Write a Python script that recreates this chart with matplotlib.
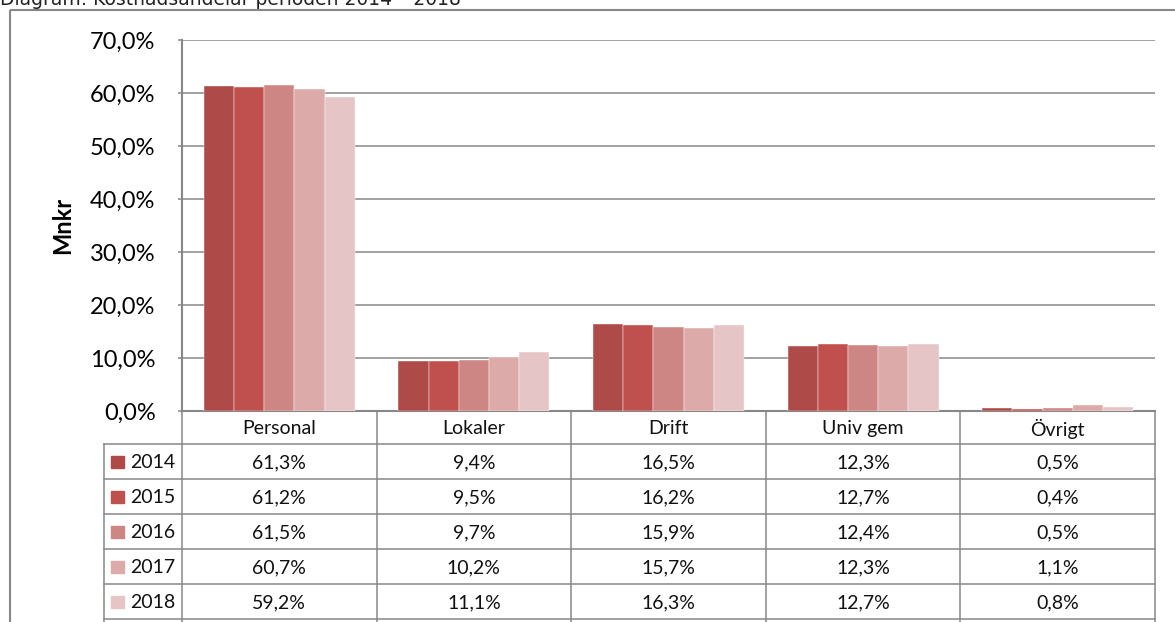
import matplotlib
matplotlib.use("Agg")
import matplotlib.pyplot as plt
from matplotlib.patches import Rectangle

categories = ["Personal", "Lokaler", "Drift", "Univ gem", "Övrigt"]
years = ["2014", "2015", "2016", "2017", "2018"]
share_2014 = [61.3, 9.4, 16.5, 12.3, 0.5]
share_2015 = [61.2, 9.5, 16.2, 12.7, 0.4]
share_2016 = [61.5, 9.7, 15.9, 12.4, 0.5]
share_2017 = [60.7, 10.2, 15.7, 12.3, 1.1]
share_2018 = [59.2, 11.1, 16.3, 12.7, 0.8]
series = [share_2014, share_2015, share_2016, share_2017, share_2018]
colors = ["#ae4a47", "#c0504d", "#cd8683", "#dbaaa9", "#e5c5c6"]
y_ticks = [0, 10, 20, 30, 40, 50, 60, 70]

W, H = 1175, 622
GRID = "#878787"
FONT = "Lato"

fig = plt.figure(figsize=(W / 100, H / 100), dpi=100)

# pixel-space overlay for the frame, title and data table
ov = fig.add_axes([0, 0, 1, 1], zorder=0)
ov.set_xlim(0, W)
ov.set_ylim(H, 0)
ov.axis("off")

# plot area in pixels
left, right, top, bottom = 182, 1155, 40, 411
ax = fig.add_axes([left / W, (H - bottom) / H, (right - left) / W, (bottom - top) / H], zorder=1)
ax.patch.set_alpha(0)

ov.add_patch(Rectangle((10, 10), W + 20, H + 20, fill=False, edgecolor=GRID, lw=1.5, clip_on=True))
ov.text(0, 5, "Diagram: Kostnadsandelar perioden 2014 \u2013 2018", fontsize=13.5,
        family="DejaVu Sans", color="#222222", va="baseline", ha="left")

# grouped bars
n = len(years)
group_w = 0.775
bar_w = group_w / n
for i, (vals, col) in enumerate(zip(series, colors)):
    xs = [c - group_w / 2 + bar_w * (i + 0.5) for c in range(len(categories))]
    ax.bar(xs, vals, width=bar_w, color=col, edgecolor="white", linewidth=0.3, zorder=3)

ax.set_xlim(-0.5, len(categories) - 0.5)
ax.set_ylim(0, 70)
ax.set_yticks(y_ticks)
ax.set_yticklabels([f"{t:.1f}%".replace(".", ",") for t in y_ticks], fontsize=17, family=FONT)
ax.set_xticks([])
ax.yaxis.grid(True, color=GRID, linewidth=1.1, zorder=0)
ax.tick_params(axis="y", length=3, width=1.1, color=GRID, pad=16)
for s in ["top", "right", "bottom"]:
    ax.spines[s].set_visible(False)
ax.spines["left"].set_color(GRID)
ax.spines["left"].set_linewidth(1.5)
ax.set_ylabel("Mnkr", fontsize=17, fontweight="bold", family=FONT)
ax.yaxis.set_label_coords((74 - left) / (right - left), 0.5)

# data table beneath the bars
cat_w = (right - left) / len(categories)
head_h, row_h = 33, 35
leg_left = 104
lw = 1.1
fs = 14
y0 = bottom
ov.plot([left, right], [y0, y0], color=GRID, lw=1.5)
for k in range(len(categories) + 1):
    x = left + k * cat_w
    ov.plot([x, x], [y0, H], color=GRID, lw=lw)
ov.plot([leg_left, leg_left], [y0 + head_h, H], color=GRID, lw=lw)
for r in range(n + 1):
    y = y0 + head_h + r * row_h
    ov.plot([leg_left, right], [y, y], color=GRID, lw=lw)
for k, cat in enumerate(categories):
    ov.text(left + (k + 0.5) * cat_w, y0 + head_h / 2 + 1, cat, fontsize=fs, family=FONT,
            ha="center", va="center", color="#111111")
for r, (yr, vals, col) in enumerate(zip(years, series, colors)):
    yc = y0 + head_h + (r + 0.5) * row_h
    ov.add_patch(Rectangle((111, yc - 6), 13, 12, color=col))
    ov.text(130, yc + 1, yr, fontsize=fs, family=FONT, ha="left", va="center", color="#111111")
    for k, v in enumerate(vals):
        ov.text(left + (k + 0.5) * cat_w, yc + 1, f"{v:.1f}%".replace(".", ","), fontsize=fs,
                family=FONT, ha="center", va="center", color="#111111")

fig.savefig("out.png", dpi=100)
